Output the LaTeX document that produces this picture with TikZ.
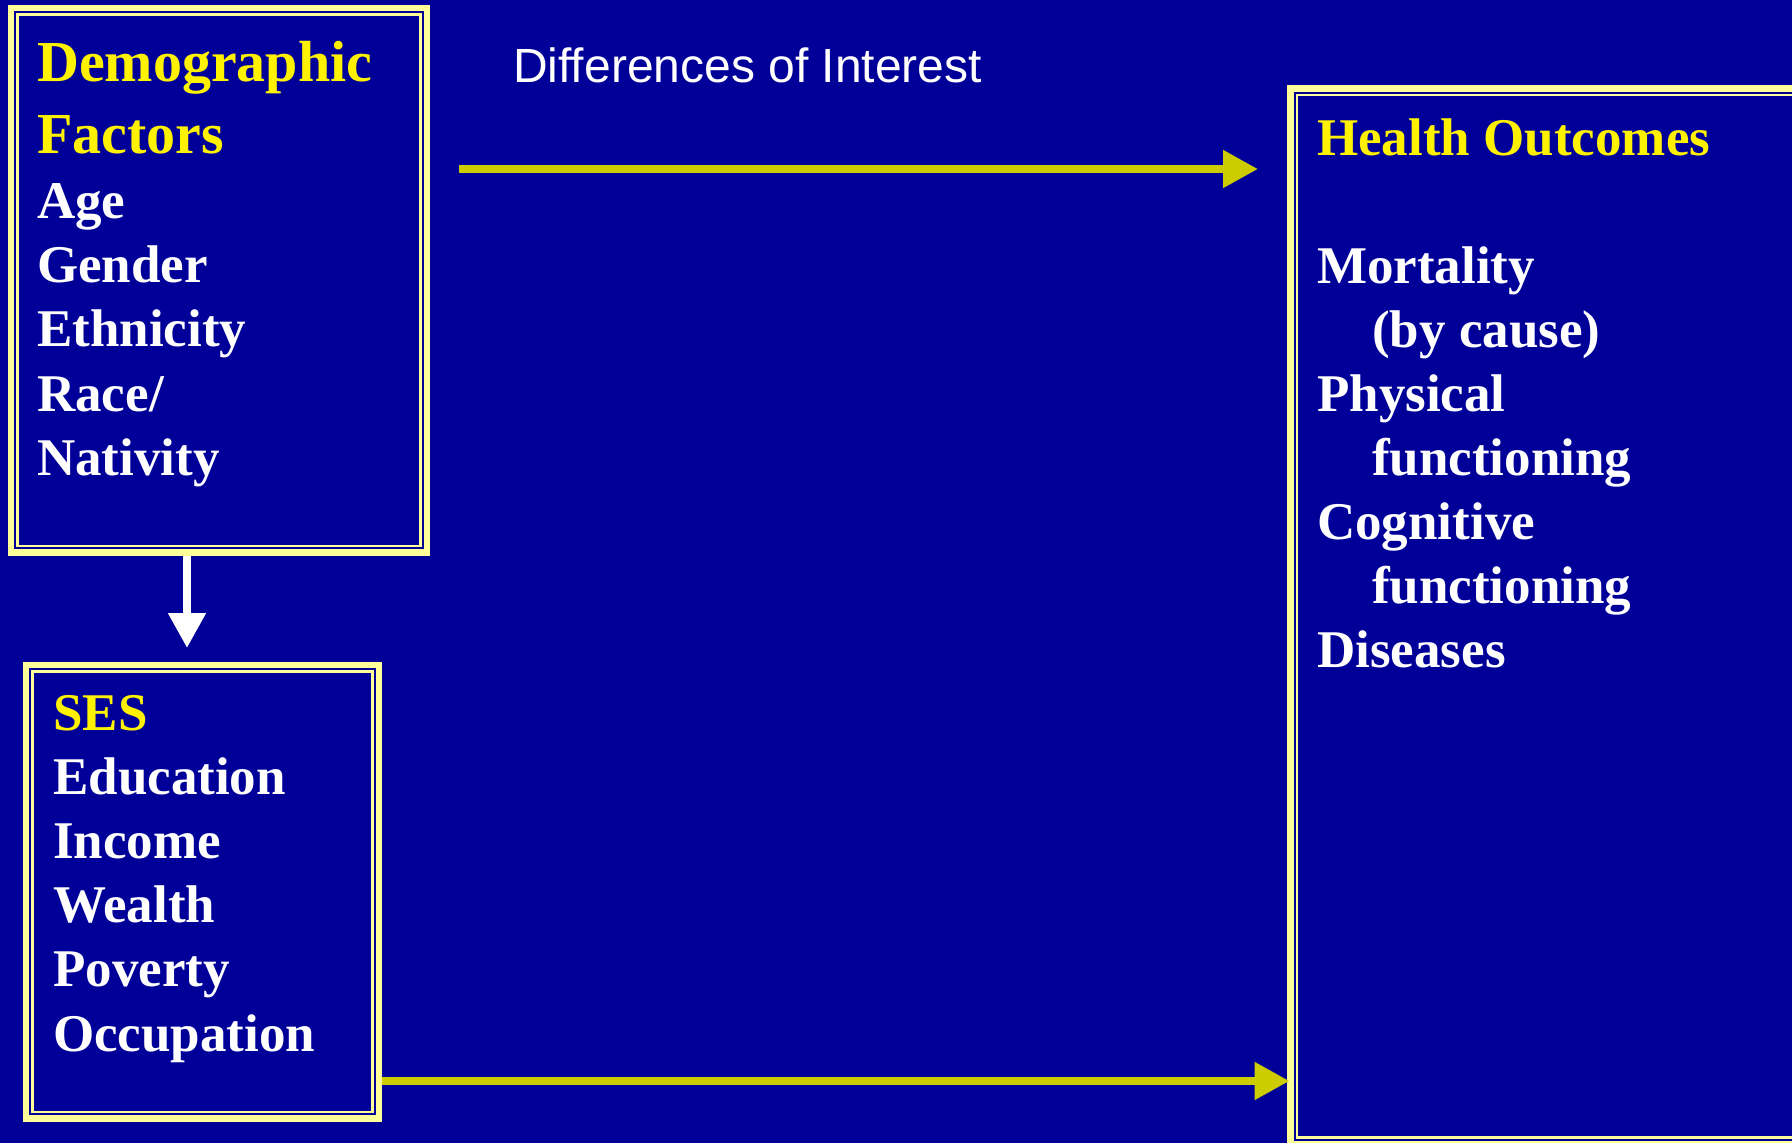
\documentclass[tikz,border=0pt]{standalone}
\usepackage{fontspec}
\setmainfont{Liberation Serif}
\newfontfamily\labelfont{Liberation Sans}
\usetikzlibrary{arrows.meta}
\definecolor{slideblue}{RGB}{0,0,153}
\definecolor{frameylw}{RGB}{255,255,153}
\definecolor{arrowylw}{RGB}{204,204,0}
\tikzset{
  frame/.style={draw=frameylw, line width=6.5pt, inner sep=0pt, outer sep=0pt, anchor=north west},
  innerframe/.style={draw=frameylw, line width=2.5pt},
  head/.style={text=yellow, font=\bfseries\fontsize{53}{64}\selectfont, anchor=base west, inner sep=0pt},
  item/.style={text=white, font=\bfseries\fontsize{53}{64}\selectfont, anchor=base west, inner sep=0pt},
  link/.style={draw=arrowylw, line width=8pt, -{Triangle[length=35pt,width=36pt]}},
  drop/.style={draw=white, line width=8pt, -{Triangle[length=35pt,width=36pt]}},
}
\begin{document}
\begin{tikzpicture}[x=1pt,y=-1pt]
    \useasboundingbox (0,0) rectangle (1792,1143);
    \clip (0,0) rectangle (1792,1143);
    \fill[slideblue] (0,0) rectangle (1792,1143);

    % the three boxes
    \node[frame, minimum width=416pt, minimum height=544.5pt] (dem) at (11,8) {};
    \node[frame, minimum width=353pt, minimum height=453.5pt] (ses) at (26,665) {};
    \node[frame, minimum width=620pt, minimum height=1055.5pt] (health) at (1290.5,88.5) {};
    \foreach \b in {dem,ses,health}
        \draw[innerframe] ([shift={(6.5,6.5)}]\b.north west) rectangle ([shift={(-6.5,-6.5)}]\b.south east);

    % demographic factors
    \node[head, font=\bfseries\fontsize{58}{66}\selectfont] (demtitle) at (37,81) {Demographic};
    \node[head, font=\bfseries\fontsize{58}{66}\selectfont] (demtitlecont) at (37,153) {Factors};
    \foreach \t [count=\i from 0] in {Age,Gender,Ethnicity,Race/,Nativity}
        \node[item] (demitem\i) at (37,218.5+64.2*\i) {\t};

    % ses
    \node[head] (sestitle) at (53,730) {SES};
    \foreach \t [count=\i from 1] in {Education,Income,Wealth,Poverty,Occupation}
        \node[item] (sesitem\i) at (53,730+64.2*\i) {\t};

    % health outcomes
    \node[head] (healthtitle) at (1317,155) {Health Outcomes};
    \foreach \t/\dx [count=\i from 2] in {Mortality/0,{(by cause)}/55,Physical/0,functioning/55,Cognitive/0,functioning/55,Diseases/0}
        \node[item] (healthitem\i) at (1317+\dx,155+64*\i) {\t};

    \node[text=white, font=\labelfont\fontsize{48}{56}\selectfont, anchor=base west, inner sep=0pt] (difflabel) at (513,82) {Differences of Interest};

    % arrows
    \coordinate (diffstart) at (459,169);
    \coordinate (seslevel) at (0,1081);
    \coordinate (sestop) at (187,648);
    \draw[link, shorten >=32.5pt] (diffstart) -- (diffstart -| health.west);
    \draw[link, shorten <=3.25pt, shorten >=1pt] (ses.east |- seslevel) -- (health.west |- seslevel);
    \draw[drop, shorten <=3.25pt] (dem.south -| sestop) -- (sestop);
\end{tikzpicture}
\end{document}
